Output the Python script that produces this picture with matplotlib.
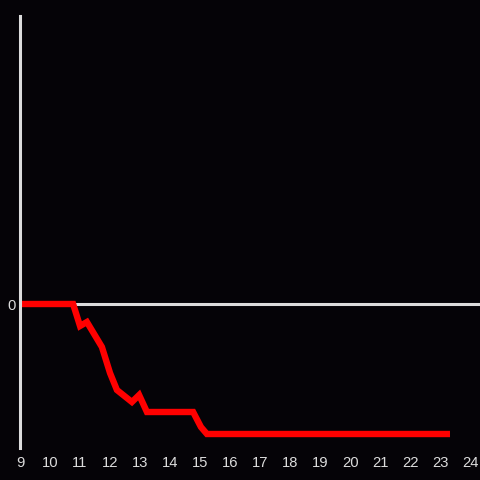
import matplotlib.pyplot as plt

# hours of the day and value (arbitrary units, 0 = baseline)
hours = [9.0, 10.77, 11.0, 11.23, 11.73, 12.0, 12.23, 12.73, 12.97, 13.23,
         14.77, 15.03, 15.23, 23.33]
values = [0, 0, -22, -18, -43, -69, -86, -98, -91, -108, -108, -123, -130, -130]

xticks = list(range(9, 25))

bg = '#050307'
fg = '#dcdcdc'

fig = plt.figure(figsize=(4.8, 4.8), dpi=100, facecolor=bg)
ax = fig.add_axes([20 / 480, 32 / 480, 460 / 480, 432 / 480])
ax.set_facecolor(bg)

ax.axhline(0, color=fg, lw=2.2, zorder=1)
ax.plot(hours, values, color='#ff0000', lw=4.6, solid_joinstyle='miter',
        solid_capstyle='butt', zorder=2)

ax.set_xlim(9, 24.33)
ax.set_ylim(-144, 288)
ax.set_xticks(xticks)
ax.set_xticklabels([str(h) for h in xticks])
ax.set_yticks([0])
ax.set_yticklabels(['0'])
ax.tick_params(colors=fg, length=0, labelsize=10.6)
ax.tick_params(axis='x', pad=5.5)
ax.tick_params(axis='y', pad=3)
for lab in ax.get_xticklabels() + ax.get_yticklabels():
    lab.set_family('Liberation Sans')

for s in ['top', 'right', 'bottom']:
    ax.spines[s].set_visible(False)
ax.spines['left'].set_color(fg)
ax.spines['left'].set_linewidth(2.2)

plt.savefig('out.png', dpi=100, facecolor=bg)
